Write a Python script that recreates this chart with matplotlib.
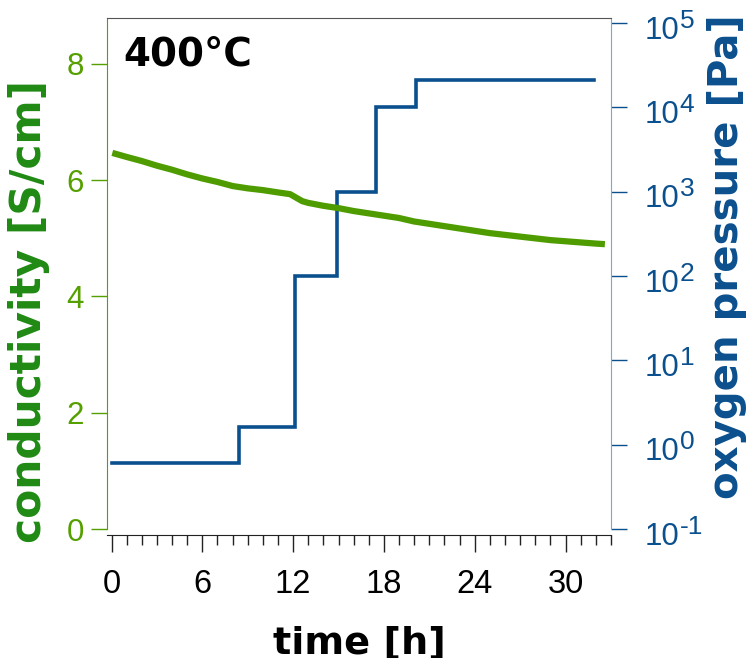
import math
import matplotlib
matplotlib.use("Agg")
import matplotlib.pyplot as plt
from matplotlib.ticker import MultipleLocator, FixedLocator

plt.rcParams["font.family"] = ["Liberation Sans", "DejaVu Sans"]

# conductivity trace (time in h, sigma in S/cm)
cond_time = [0.05, 1, 2, 3, 4, 5, 6, 7, 8, 8.5, 9, 10, 11, 11.8, 12.2, 12.6, 13,
             14, 15, 16, 17, 18, 19, 20, 21, 22, 23, 24, 25, 26, 27, 28, 29, 30,
             31, 32, 32.6]
cond_value = [6.47, 6.40, 6.33, 6.25, 6.18, 6.10, 6.03, 5.97, 5.90, 5.88, 5.86,
              5.83, 5.79, 5.76, 5.70, 5.64, 5.61, 5.56, 5.52, 5.47, 5.43, 5.39,
              5.35, 5.29, 5.25, 5.21, 5.17, 5.13, 5.09, 5.06, 5.03, 5.00, 4.97,
              4.95, 4.93, 4.91, 4.90]

# oxygen partial pressure steps (Pa)
po2_edges = [0.0, 8.42, 12.1, 14.9, 17.5, 20.1, 31.9]
po2_levels = [0.61, 1.62, 100, 1000, 1.0e4, 2.1e4]

x_major = [0, 6, 12, 18, 24, 30]
left_ticks = [0, 2, 4, 6, 8]
right_exponents = [-1, 0, 1, 2, 3, 4, 5]

GREEN_LINE = "#4f9c00"
GREEN_TICK = "#55a000"
GREEN_LABEL = "#1f8a14"
BLUE = "#0b508e"
BLUE_SPINE = "#7ea7cc"

fig = plt.figure(figsize=(7.51, 6.58), dpi=100)
ax = fig.add_axes([0.1425, 0.196, 0.671, 0.7766])
ax2 = ax.twinx()

# step curve for the pressure
step_x = [po2_edges[0]]
step_y = [po2_levels[0]]
for i, lvl in enumerate(po2_levels):
    step_x += [po2_edges[i + 1]]
    step_y += [lvl]
    if i + 1 < len(po2_levels):
        step_x += [po2_edges[i + 1]]
        step_y += [po2_levels[i + 1]]
ax2.plot(step_x, step_y, color=BLUE, lw=2.6, solid_joinstyle="miter", zorder=2)
ax2.set_yscale("log")
ax2.set_ylim(10 ** -1, 10 ** 5.06)

ax.plot(cond_time, cond_value, color=GREEN_LINE, lw=4.5, solid_capstyle="butt", zorder=3)
ax.set_zorder(ax2.get_zorder() + 1)
ax.patch.set_visible(False)

ax.set_xlim(-0.3, 33)
ax.set_ylim(0, 8.79)

# x axis
ax.xaxis.set_major_locator(FixedLocator(x_major))
ax.xaxis.set_minor_locator(MultipleLocator(1))
ax.tick_params(axis="x", which="major", length=12, width=1.0, color="#222222",
               pad=13, labelsize=23.5)
ax.tick_params(axis="x", which="minor", length=7, width=1.0, color="#222222")
ax.spines["bottom"].set_position(("outward", 4))
ax.spines["bottom"].set_color("#222222")
ax.spines["top"].set_color("#555555")
ax.spines["left"].set_color(GREEN_TICK)
ax.spines["right"].set_visible(False)

# left axis
ax.set_yticks(left_ticks)
ax.set_yticklabels([str(v) for v in left_ticks])
ax.tick_params(axis="y", length=11.5, width=1.0, color=GREEN_TICK,
               labelcolor=GREEN_TICK, pad=5, labelsize=22.5)

# right axis: decade ticks, labels written as "10" with a large raised exponent
ax2.yaxis.set_major_locator(FixedLocator([10.0 ** e for e in right_exponents]))
ax2.yaxis.set_minor_locator(FixedLocator([]))
ax2.tick_params(axis="y", length=11.5, width=1.0, color=BLUE, labelright=False)
for spine in ["top", "bottom", "left"]:
    ax2.spines[spine].set_visible(False)
ax2.spines["right"].set_color(BLUE_SPINE)

for e in right_exponents:
    base = ax2.annotate("10", xy=(1, 10.0 ** e), xycoords=("axes fraction", "data"),
                        xytext=(34, -7.5), textcoords="offset pixels",
                        ha="left", va="center", fontsize=22.5, color=BLUE,
                        annotation_clip=False)
    exp_txt = ("-%d" % -e) if e < 0 else "%d" % e
    ax2.annotate(exp_txt, xy=(1, 0), xycoords=base,
                 xytext=(0, 13), textcoords="offset pixels",
                 ha="left", va="bottom", fontsize=19, color=BLUE,
                 annotation_clip=False)

label_font = dict(family="DejaVu Sans", weight="bold")
ax.set_xlabel("time [h]", fontsize=27.5, color="black", **label_font)
ax.xaxis.set_label_coords(0.5, -0.2446)
ax.xaxis.label.set_verticalalignment("baseline")
ax.set_ylabel("conductivity [S/cm]", fontsize=30.5, color=GREEN_LABEL, **label_font)
ax.yaxis.set_label_coords(-0.113, 0.425)
ax2.set_ylabel("oxygen pressure [Pa]", fontsize=29, color=BLUE, **label_font)
ax2.yaxis.set_label_coords(1.19, 0.534)

ax.text(0.032, 0.908, "400°C", transform=ax.transAxes, fontsize=28,
        fontweight="bold", family="DejaVu Sans", va="baseline", ha="left")

fig.savefig("out.png", dpi=100)
